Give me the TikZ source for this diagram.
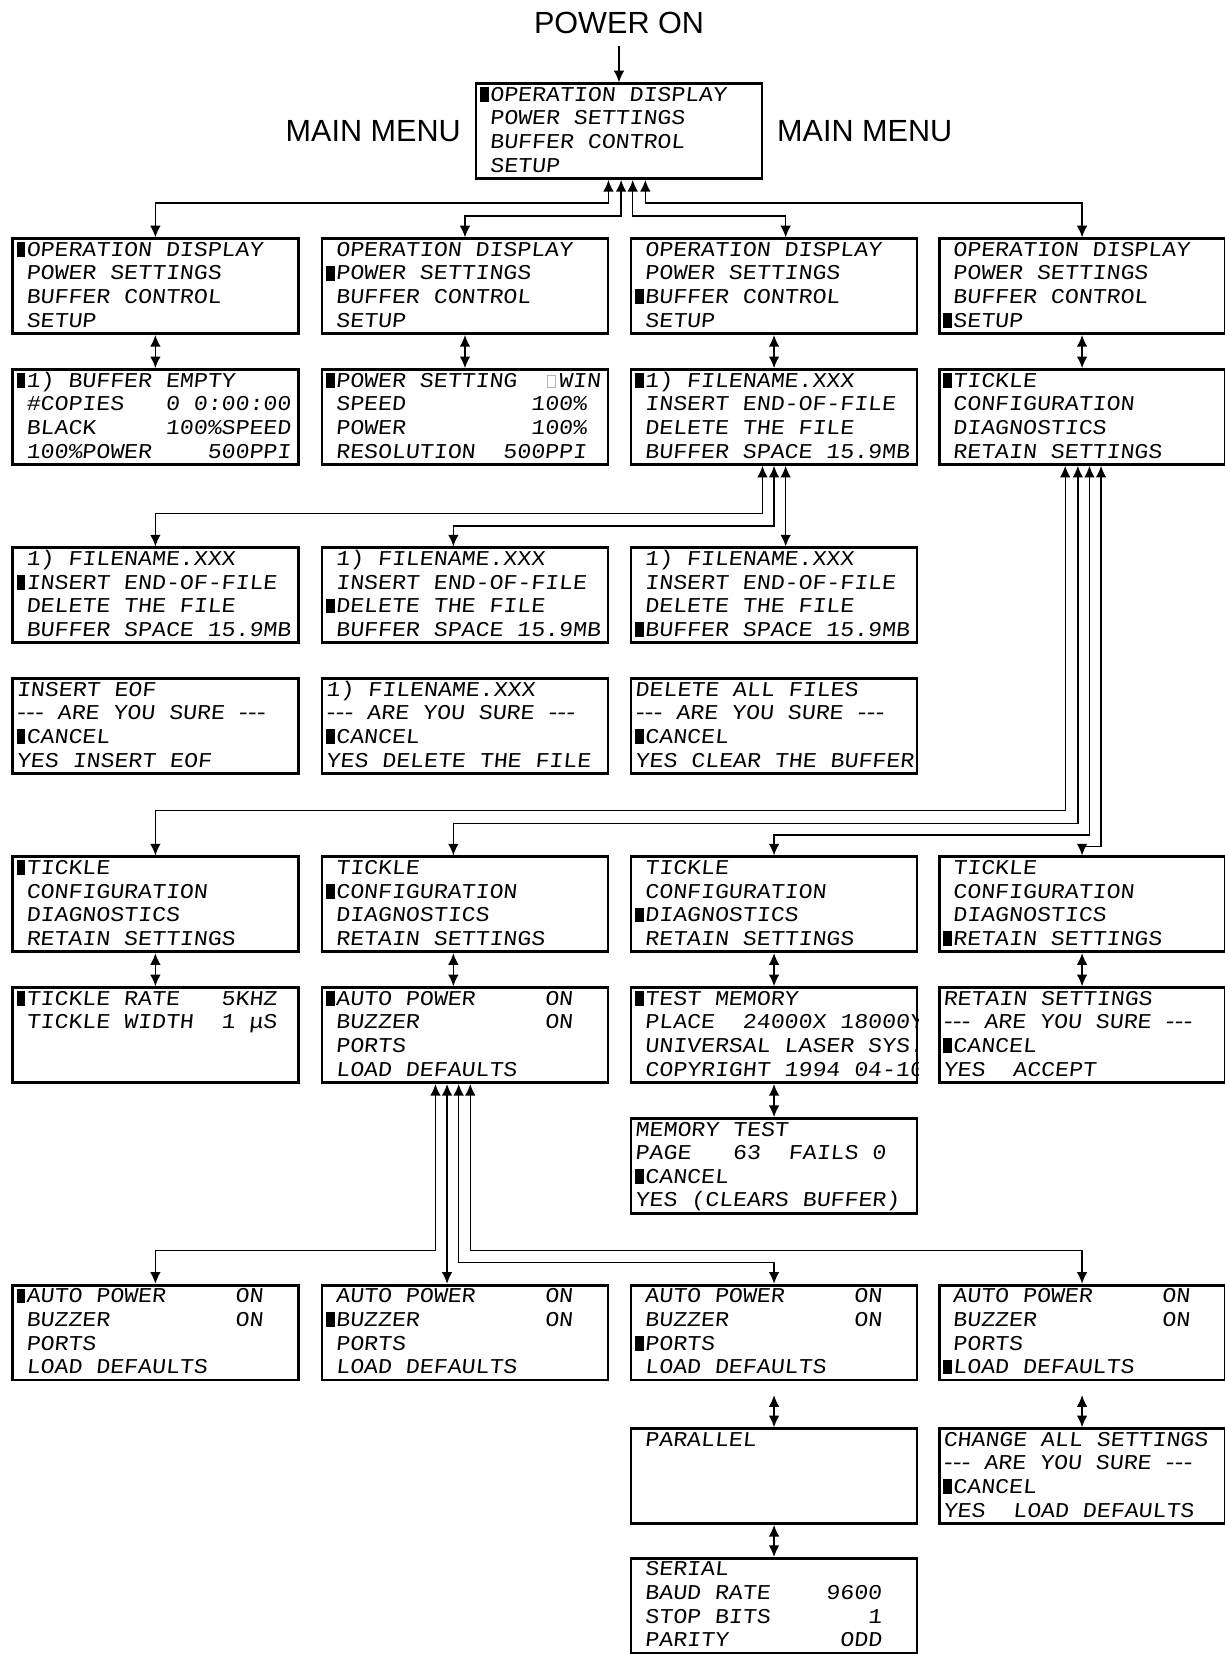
\documentclass[tikz,border=0pt]{standalone}
\usepackage{fontspec}
\usetikzlibrary{arrows.meta,positioning}

\newfontfamily\lcdfont[FakeSlant=0.1,FakeStretch=1.1]{Liberation Mono}
\newfontfamily\labelfont{Liberation Sans}
\newlength\cw
\AtBeginDocument{\settowidth{\cw}{\lcdfont\fontsize{20pt}{22pt}\selectfont 0}}
\newcommand\curs{\makebox[\cw][l]{\hspace*{4pt}\rule[-0.6pt]{8pt}{14pt}}}
\newcommand\blank{\hspace*{\cw}}
\newcommand\ind{\hspace*{4pt}}
\newcommand\wbox{\makebox[\cw][c]{\color{black!30}\setlength\fboxsep{0pt}\setlength\fboxrule{0.7pt}\fbox{\rule{0pt}{11pt}\hspace*{7pt}}}}
\newcommand\dsh{\makebox[8.5pt]{-}}
\newcommand\ask{\dsh\dsh\dsh{} ARE YOU SURE \dsh\dsh\dsh}

\tikzset{
  lcd/.style={rectangle,draw=black,line width=2.6pt,minimum width=271pt,minimum height=90pt,inner sep=0,anchor=north west},
  row/.style={anchor=base west,inner sep=0,font=\lcdfont\fontsize{20pt}{22pt}\selectfont\frenchspacing},
  big/.style={inner sep=0,font=\labelfont\fontsize{29pt}{31pt}\selectfont},
  link/.style={<->,line width=1.3pt}
}

% one display: name, left, top, four lines
\newcommand{\lcd}[7]{%
  \node[lcd] (#1) at (#2,#3) {};
  \begin{scope}
    \clip (#1.north west) rectangle (#1.south east);
    \node[row] at ([xshift=1pt,yshift=-18pt]#1.north west) {#4};
    \node[row] at ([xshift=1pt,yshift=-40.4pt]#1.north west) {#5};
    \node[row] at ([xshift=1pt,yshift=-62.8pt]#1.north west) {#6};
    \node[row] at ([xshift=1pt,yshift=-85.2pt]#1.north west) {#7};
  \end{scope}}

\begin{document}
\begin{tikzpicture}[x=1pt,y=-1pt,>={Latex[length=11pt,width=10pt]}]
\useasboundingbox (0,0) rectangle (1161,1568);

% main menu
\lcd{main}{450}{78}{\curs OPERATION DISPLAY}{\blank POWER SETTINGS}{\blank BUFFER CONTROL}{\blank SETUP}
\node[big,above=46pt of main] (power) {POWER ON};
\node[big,left=13pt of main] (menuL) {MAIN MENU};
\node[big,right=13pt of main] (menuR) {MAIN MENU};
\draw[->,line width=1.3pt] ([yshift=-12pt]power.south) -- (main.north);

\lcd{selOD}{10.5}{225}{\curs OPERATION DISPLAY}{\blank POWER SETTINGS}{\blank BUFFER CONTROL}{\blank SETUP}
\lcd{selPS}{304}{225}{\blank OPERATION DISPLAY}{\curs POWER SETTINGS}{\blank BUFFER CONTROL}{\blank SETUP}
\lcd{selBC}{597}{225}{\blank OPERATION DISPLAY}{\blank POWER SETTINGS}{\curs BUFFER CONTROL}{\blank SETUP}
\lcd{selSU}{889}{225}{\blank OPERATION DISPLAY}{\blank POWER SETTINGS}{\blank BUFFER CONTROL}{\curs SETUP}

\lcd{opdisp}{10.5}{349}{\curs 1) BUFFER EMPTY}{\blank\#COPIES~~~0~0:00:00}{\blank BLACK~~~~~100\%SPEED}{\blank 100\%POWER~~~~500PPI}
\lcd{pwrset}{304}{349}{\curs POWER SETTING~~\wbox WIN}{\blank SPEED~~~~~~~~~100\%}{\blank POWER~~~~~~~~~100\%}{\blank RESOLUTION~~500PPI}
\lcd{bufctl}{597}{349}{\curs 1) FILENAME.XXX}{\blank INSERT END-OF-FILE}{\blank DELETE THE FILE}{\blank BUFFER SPACE 15.9MB}
\lcd{setup}{889}{349}{\curs TICKLE}{\blank CONFIGURATION}{\blank DIAGNOSTICS}{\blank RETAIN SETTINGS}

% buffer control
\lcd{bufEOF}{10.5}{518}{\blank 1) FILENAME.XXX}{\curs INSERT END-OF-FILE}{\blank DELETE THE FILE}{\blank BUFFER SPACE 15.9MB}
\lcd{bufDEL}{304}{518}{\blank 1) FILENAME.XXX}{\blank INSERT END-OF-FILE}{\curs DELETE THE FILE}{\blank BUFFER SPACE 15.9MB}
\lcd{bufSPC}{597}{518}{\blank 1) FILENAME.XXX}{\blank INSERT END-OF-FILE}{\blank DELETE THE FILE}{\curs BUFFER SPACE 15.9MB}

\lcd{askEOF}{10.5}{642}{\ind INSERT EOF}{\ind\ask}{\curs CANCEL}{\ind YES INSERT EOF}
\lcd{askDEL}{304}{642}{\ind 1) FILENAME.XXX}{\ind\ask}{\curs CANCEL}{\ind YES DELETE THE FILE}
\lcd{askCLR}{597}{642}{\ind DELETE ALL FILES}{\ind\ask}{\curs CANCEL}{\ind YES CLEAR THE BUFFER}

% setup
\lcd{selTK}{10.5}{811}{\curs TICKLE}{\blank CONFIGURATION}{\blank DIAGNOSTICS}{\blank RETAIN SETTINGS}
\lcd{selCF}{304}{811}{\blank TICKLE}{\curs CONFIGURATION}{\blank DIAGNOSTICS}{\blank RETAIN SETTINGS}
\lcd{selDG}{597}{811}{\blank TICKLE}{\blank CONFIGURATION}{\curs DIAGNOSTICS}{\blank RETAIN SETTINGS}
\lcd{selRT}{889}{811}{\blank TICKLE}{\blank CONFIGURATION}{\blank DIAGNOSTICS}{\curs RETAIN SETTINGS}

\lcd{tickle}{10.5}{935}{\curs TICKLE RATE~~~5KHZ}{\blank TICKLE WIDTH~~1 μS}{}{}
\lcd{config}{304}{935}{\curs AUTO POWER~~~~~ON}{\blank BUZZER~~~~~~~~~ON}{\blank PORTS}{\blank LOAD DEFAULTS}
\lcd{diag}{597}{935}{\curs TEST MEMORY}{\blank PLACE~~24000X 18000Y}{\blank UNIVERSAL LASER SYS.}{\blank COPYRIGHT 1994 04-10}
\lcd{retain}{889}{935}{\ind RETAIN SETTINGS}{\ind\ask}{\curs CANCEL}{\ind YES~~ACCEPT}

\lcd{memtest}{597}{1059}{\ind MEMORY TEST}{\ind PAGE~~~63~~FAILS~0}{\curs CANCEL}{\ind YES (CLEARS BUFFER)}

% configuration
\lcd{selAP}{10.5}{1217}{\curs AUTO POWER~~~~~ON}{\blank BUZZER~~~~~~~~~ON}{\blank PORTS}{\blank LOAD DEFAULTS}
\lcd{selBZ}{304}{1217}{\blank AUTO POWER~~~~~ON}{\curs BUZZER~~~~~~~~~ON}{\blank PORTS}{\blank LOAD DEFAULTS}
\lcd{selPT}{597}{1217}{\blank AUTO POWER~~~~~ON}{\blank BUZZER~~~~~~~~~ON}{\curs PORTS}{\blank LOAD DEFAULTS}
\lcd{selLD}{889}{1217}{\blank AUTO POWER~~~~~ON}{\blank BUZZER~~~~~~~~~ON}{\blank PORTS}{\curs LOAD DEFAULTS}

\lcd{parallel}{597}{1353}{\blank PARALLEL}{}{}{}
\lcd{loaddef}{889}{1353}{\ind CHANGE ALL SETTINGS}{\ind\ask}{\curs CANCEL}{\ind YES~~LOAD DEFAULTS}
\lcd{serial}{597}{1476}{\blank SERIAL}{\blank BAUD RATE~~~~9600}{\blank STOP BITS~~~~~~~1}{\blank PARITY~~~~~~~~ODD}

% connectors
\draw[link] ([xshift=-10pt]main.south) -- ++(0,22) -| (selOD.north);
\draw[link] ([xshift=2pt]main.south) -- ++(0,34) -| (selPS.north);
\draw[link] ([xshift=13pt]main.south) -- ++(0,34) -| ([xshift=11pt]selBC.north);
\draw[link] ([xshift=25pt]main.south) -- ++(0,22) -| (selSU.north);

\foreach \a/\b in {selOD/opdisp,selPS/pwrset,selBC/bufctl,selSU/setup,selTK/tickle,selDG/diag,selRT/retain,diag/memtest,parallel/serial}
  \draw[link] (\a.south) -- (\b.north);
\draw[link] ([xshift=-11pt]selCF.south) -- ([xshift=-11pt]config.north);

\draw[link] ([xshift=-11pt]bufctl.south) -- ++(0,45) -| (bufEOF.north);
\draw[link] (bufctl.south) -- ++(0,57) -| ([xshift=-11pt]bufDEL.north);
\draw[link] ([xshift=11pt]bufctl.south) -- ([xshift=11pt]bufSPC.north);

\draw[link] ([xshift=-16pt]setup.south) -- ++(0,327) -| (selTK.north);
\draw[link] ([xshift=-4pt]setup.south) -- ++(0,339) -| ([xshift=-11pt]selCF.north);
\draw[link] ([xshift=7pt]setup.south) -- ++(0,350) -| (selDG.north);
\draw[link] ([xshift=18pt]setup.south) -- ++(0,361) -| (selRT.north);

\draw[link] ([xshift=-28pt]config.south) -- ++(0,158) -| (selAP.north);
\draw[link] ([xshift=-17pt]config.south) -- ([xshift=-17pt]selBZ.north);
\draw[link] ([xshift=-6pt]config.south) -- ++(0,169) -| (selPT.north);
\draw[link] ([xshift=5pt]config.south) -- ++(0,158) -| (selLD.north);

\draw[link] ([yshift=-13pt]selPT.south) -- (parallel.north);
\draw[link] ([yshift=-13pt]selLD.south) -- (loaddef.north);

\end{tikzpicture}
\end{document}
